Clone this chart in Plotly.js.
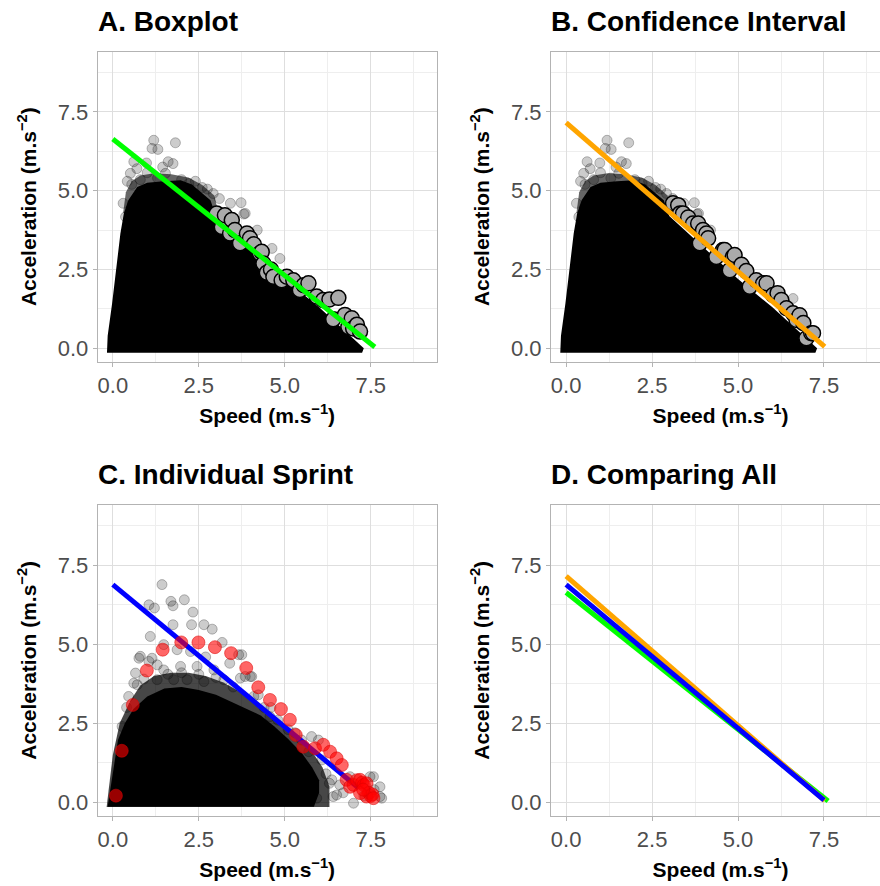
<!DOCTYPE html>
<html>
<head>
<meta charset="utf-8">
<script src="https://cdn.plot.ly/plotly-3.0.1.min.js"></script>
<style>
html, body { margin: 0; padding: 0; overflow: hidden; background: #fff; }
#chart { width: 900px; height: 886px; }
</style>
</head>
<body>
<div id="chart"></div>
<script>
// ---------- DATA ----------
const panelTitles = ['A. Boxplot', 'B. Confidence Interval', 'C. Individual Sprint', 'D. Comparing All'];
const tickValues = [0, 2.5, 5, 7.5];
const tickLabels = ['0.0', '2.5', '5.0', '7.5'];
const minorTickValues = [1.25, 3.75, 6.25, 8.75];

// All-data cloud (panels A and B): dense core outline
const cloudCoreX = [-0.17, -0.15, -0.02, 0.13, 0.22, 0.32, 0.45, 0.71, 1.0, 1.48, 1.97, 2.3, 2.55, 2.84, 3.0, 3.5, 4.0, 4.5, 5.0, 5.5, 6.0, 6.5, 7.0, 7.22, 7.3, 7.25];
const cloudCoreY = [-0.14, 0.4, 1.43, 2.8, 3.64, 4.28, 4.7, 5.12, 5.25, 5.3, 5.33, 5.2, 4.98, 4.7, 4.2, 3.7, 3.2, 2.7, 2.2, 1.75, 1.3, 0.8, 0.3, 0.1, 0.0, -0.14];
// All-data cloud: lighter fringe over the top of the cloud
const cloudHaloX = [0.3, 0.38, 0.55, 0.8, 1.2, 1.7, 2.2, 2.6, 2.95, 3.05, 2.0, 0.6];
const cloudHaloY = [4.3, 4.95, 5.3, 5.48, 5.55, 5.52, 5.42, 5.18, 4.85, 4.4, 4.2, 4.2];
// All-data cloud: sparse outlying points
const cloudSparseX = [1.19, 1.82, 1.14, 1.31, 0.61, 0.98, 1.61, 1.75, 0.51, 1.0, 1.53, 2.21, 2.92, 3.42, 3.73, 3.81, 0.37, 4.63, 3.85, 4.86, 0.55, 0.8, 1.3, 2.0, 2.6, 3.1, 4.2, 6.6, 0.42, 0.7, 1.45, 2.4, 2.75, 0.3];
const cloudSparseY = [6.6, 6.52, 6.34, 6.31, 5.92, 5.88, 5.92, 5.86, 5.55, 5.57, 5.55, 5.23, 4.91, 4.6, 4.62, 4.26, 4.17, 3.17, 4.28, 2.85, 5.2, 5.35, 5.4, 5.35, 5.1, 4.75, 3.75, 1.58, 5.3, 5.7, 5.75, 5.3, 5.05, 4.6];

// A. Boxplot-selected points
const boxSpeed = [3.02, 3.17, 3.26, 3.41, 3.46, 3.55, 3.70, 3.90, 3.99, 4.10, 4.28, 4.33, 4.38, 4.48, 4.60, 4.67, 4.91, 5.06, 5.25, 5.44, 5.55, 5.69, 5.93, 6.12, 6.30, 6.41, 6.56, 6.75, 6.85, 6.95, 6.99, 7.10, 7.19];
const boxAcc = [4.28, 3.85, 4.22, 3.64, 4.07, 3.75, 3.33, 3.64, 3.49, 3.30, 3.01, 3.06, 2.69, 2.40, 2.50, 2.27, 2.16, 2.27, 2.16, 1.85, 2.00, 2.06, 1.64, 1.53, 1.55, 0.92, 1.60, 1.06, 0.68, 0.95, 0.63, 0.75, 0.53];
// B. Confidence-interval-selected points
const ciSpeed = [3.11, 3.26, 3.31, 3.40, 3.55, 3.69, 3.84, 3.89, 3.98, 4.08, 4.13, 4.37, 4.56, 4.61, 4.76, 4.85, 4.90, 5.10, 5.24, 5.34, 5.53, 5.73, 5.83, 6.02, 6.15, 6.26, 6.41, 6.60, 6.70, 6.79, 6.90, 6.99, 7.13, 7.18];
const ciAcc = [4.60, 4.54, 4.28, 4.28, 4.15, 3.96, 3.96, 3.33, 3.75, 3.64, 3.49, 2.90, 3.12, 3.12, 2.48, 2.90, 2.96, 2.65, 2.45, 1.95, 2.16, 2.06, 2.06, 1.69, 1.75, 1.53, 1.27, 1.11, 0.90, 1.05, 0.80, 0.32, 0.48, 0.48];

// C. Sprint data cloud
const sprintCoreX = [-0.15, -0.05, 0.05, 0.15, 0.35, 0.6, 1.0, 1.5, 2.0, 2.5, 3.0, 3.5, 3.9, 4.3, 4.7, 5.1, 5.5, 5.8, 6.0, 6.0, 5.85];
const sprintCoreY = [-0.14, 0.6, 1.3, 1.97, 2.5, 2.95, 3.35, 3.6, 3.65, 3.55, 3.4, 3.15, 2.95, 2.75, 2.4, 2.0, 1.55, 1.1, 0.7, 0.3, -0.14];
const sprintHaloX = [-0.18, 0.0, 0.2, 0.5, 0.8, 1.2, 1.7, 2.2, 2.7, 3.2, 3.7, 4.2, 4.6, 5.0, 5.4, 5.8, 6.1, 6.3, 6.3];
const sprintHaloY = [-0.15, 1.5, 2.5, 3.2, 3.7, 4.0, 4.1, 4.1, 4.0, 3.8, 3.5, 3.15, 2.8, 2.4, 2.0, 1.6, 1.1, 0.5, -0.15];
const sprintSparseX = [1.43, 1.05, 1.21, 1.69, 1.75, 2.08, 2.33, 1.75, 2.29, 2.65, 2.89, 1.09, 3.18, 1.48, 1.87, 2.26, 0.76, 1.14, 3.66, 3.71, 4.0, 0.66, 1.48, 1.97, 2.45, 2.94, 1.29, 1.77, 2.16, 2.65, 3.23, 0.71, 3.75, 4.04, 3.85, 4.23, 4.57, 5.78, 5.98, 6.08, 6.37, 6.51, 7.0, 7.58, 7.77, 7.82, 5.93, 5.59, 5.25, 5.49, 6.41, 6.9, 7.48, 7.77, 0.8, 0.61, 0.46, 0.27, 1.29, 1.05, 4.4, 4.8, 5.1, 6.2, 6.7, 7.3, 7.6, 3.4, 2.7, 0.4, 0.9, 1.6, 2.0, 2.5, 3.0, 3.5, 4.1, 4.6, 5.3, 5.7, 6.3, 6.6];
const sprintSparseY = [6.89, 6.25, 6.15, 6.36, 6.22, 6.41, 6.02, 5.62, 5.62, 5.62, 5.48, 5.25, 5.06, 4.99, 4.83, 4.77, 4.56, 4.56, 4.67, 3.93, 3.98, 4.09, 4.19, 4.3, 4.3, 4.19, 3.88, 3.88, 3.88, 3.82, 3.88, 3.72, 4.67, 3.98, 3.98, 3.4, 2.71, 2.08, 1.97, 1.34, 0.71, 0.23, -0.03, 0.81, 0.49, 0.13, 0.13, 0.49, 1.45, 1.97, 0.18, 0.81, 0.81, 0.18, 4.62, 3.77, 3.35, 2.4, 4.35, 4.46, 3.0, 2.6, 2.3, 0.9, 0.3, 0.2, 0.4, 4.4, 4.6, 3.0, 3.9, 4.05, 4.1, 4.05, 3.95, 3.65, 3.35, 3.0, 2.2, 1.6, 0.6, 0.55];
// C. The individual sprint
const indivSpeed = [0.09, 0.26, 0.58, 0.99, 1.45, 1.99, 2.49, 2.97, 3.44, 3.88, 4.23, 4.57, 4.89, 5.15, 5.32, 5.54, 5.88, 6.12, 6.32, 6.51, 6.66, 6.80, 6.90, 7.00, 7.10, 7.19, 7.25, 7.30, 7.38, 7.38, 7.45, 7.50, 7.55, 7.58, 7.19, 7.28];
const indivAcc = [0.21, 1.63, 3.08, 4.17, 4.83, 5.06, 5.06, 4.91, 4.72, 4.25, 3.64, 3.24, 2.95, 2.61, 2.13, 1.76, 1.71, 1.82, 1.60, 1.39, 1.18, 0.71, 0.49, 0.55, 0.70, 0.71, 0.62, 0.55, 0.60, 0.18, 0.30, 0.20, 0.25, 0.13, 0.29, 0.40];

// Fitted acceleration-speed profiles (start, end)
const boxLineX = [0, 7.62];
const boxLineY = [6.64, 0.04];
const ciLineX = [0, 7.52];
const ciLineY = [7.16, 0.05];
const indivLineX = [0, 7.15];
const indivLineY = [6.89, 0.45];
const indivLineFullX = [0, 7.5];
const indivLineFullY = [6.89, 0.07];

// ---------- STYLE ----------
const FONT = '"Liberation Sans", Arial, Helvetica, sans-serif';
const W = 900, H = 886;
const colX = [[97.7, 436.7], [551, 890]];
const rowY = [[51.7, 361.7], [505, 815.7]];
const GREEN = '#00FF00', ORANGE = '#FFA500', BLUE = '#0000FF';

function xDom(c) { return [colX[c][0] / W, colX[c][1] / W]; }
function yDom(r) { return [1 - rowY[r][1] / H, 1 - rowY[r][0] / H]; }

function baseAxis() {
  return {
    tickmode: 'array', tickvals: tickValues, ticktext: tickLabels,
    showgrid: true, gridcolor: '#DEDEDE', gridwidth: 1,
    minor: { tickmode: 'array', tickvals: minorTickValues, showgrid: true, gridcolor: '#EEEEEE', gridwidth: 1, ticks: '' },
    zeroline: false, showline: true, mirror: true, linecolor: '#B3B3B3', linewidth: 1,
    ticks: 'outside', ticklen: 4, tickcolor: '#B3B3B3', tickwidth: 1,
    tickfont: { family: FONT, size: 22, color: '#4D4D4D' },
    fixedrange: true
  };
}
function xAxis(c, r, anchor) {
  return Object.assign(baseAxis(), {
    domain: xDom(c), anchor: anchor, range: [-0.44, 9.42],
    title: { text: '<b>Speed (m.s<sup>−1</sup>)</b>', font: { family: FONT, size: 21, color: '#000' }, standoff: 11 }
  });
}
function yAxis(c, r, anchor) {
  return Object.assign(baseAxis(), {
    domain: yDom(r), anchor: anchor, range: [-0.425, 9.41],
    title: { text: '<b>Acceleration (m.s<sup>−2</sup>)</b>', font: { family: FONT, size: 21, color: '#000' }, standoff: 15 }
  });
}

const traces = [];
function poly(xs, ys, color, xa, ya) {
  traces.push({ x: xs, y: ys, xaxis: xa, yaxis: ya, type: 'scatter', mode: 'lines', fill: 'toself', fillcolor: color, line: { width: 0, color: color }, hoverinfo: 'skip', showlegend: false });
}
function pts(xs, ys, marker, xa, ya) {
  traces.push({ x: xs, y: ys, xaxis: xa, yaxis: ya, type: 'scatter', mode: 'markers', marker: marker, hoverinfo: 'x+y', showlegend: false });
}
function line(xs, ys, color, xa, ya) {
  traces.push({ x: xs, y: ys, xaxis: xa, yaxis: ya, type: 'scatter', mode: 'lines', line: { color: color, width: 5 }, hoverinfo: 'skip', showlegend: false });
}
const sparseMarker = { size: 10, color: 'rgba(0,0,0,0.2)', line: { color: 'rgba(0,0,0,0.25)', width: 1 } };
const selMarker = { size: 15, color: '#AAAAAA', line: { color: '#000000', width: 1.5 } };

// Panel A
poly(cloudHaloX, cloudHaloY, 'rgba(0,0,0,0.6)', 'x', 'y');
poly(cloudCoreX, cloudCoreY, '#000000', 'x', 'y');
pts(cloudSparseX, cloudSparseY, sparseMarker, 'x', 'y');
pts(boxSpeed, boxAcc, selMarker, 'x', 'y');
line(boxLineX, boxLineY, GREEN, 'x', 'y');
// Panel B
poly(cloudHaloX, cloudHaloY, 'rgba(0,0,0,0.6)', 'x2', 'y2');
poly(cloudCoreX, cloudCoreY, '#000000', 'x2', 'y2');
pts(cloudSparseX, cloudSparseY, sparseMarker, 'x2', 'y2');
pts(ciSpeed, ciAcc, selMarker, 'x2', 'y2');
line(ciLineX, ciLineY, ORANGE, 'x2', 'y2');
// Panel C
poly(sprintHaloX, sprintHaloY, 'rgba(0,0,0,0.72)', 'x3', 'y3');
poly(sprintCoreX, sprintCoreY, '#000000', 'x3', 'y3');
pts(sprintSparseX, sprintSparseY, sparseMarker, 'x3', 'y3');
line(indivLineX, indivLineY, BLUE, 'x3', 'y3');
pts(indivSpeed, indivAcc, { size: 13, color: 'rgba(255,0,0,0.6)', line: { color: 'rgba(220,0,0,0.5)', width: 1 } }, 'x3', 'y3');
// Panel D
line(boxLineX, boxLineY, GREEN, 'x4', 'y4');
line(ciLineX, ciLineY, ORANGE, 'x4', 'y4');
line(indivLineFullX, indivLineFullY, BLUE, 'x4', 'y4');

const titleAnn = [];
const titlePos = [[0, 0], [1, 0], [0, 1], [1, 1]];
const titleCenterPx = [22, 474];
panelTitles.forEach(function (t, i) {
  const c = titlePos[i][0], r = titlePos[i][1];
  titleAnn.push({
    text: '<b>' + t + '</b>', xref: 'paper', yref: 'paper',
    x: colX[c][0] / W - 0.002, y: 1 - titleCenterPx[r] / H, xanchor: 'left', yanchor: 'middle',
    showarrow: false, font: { family: FONT, size: 28, color: '#000' }
  });
});

const layout = {
  width: W, height: H,
  margin: { l: 0, r: 0, t: 0, b: 0 },
  paper_bgcolor: '#FFFFFF', plot_bgcolor: '#FFFFFF',
  showlegend: false, hovermode: 'closest',
  font: { family: FONT },
  xaxis: xAxis(0, 0, 'y'), yaxis: yAxis(0, 0, 'x'),
  xaxis2: xAxis(1, 0, 'y2'), yaxis2: yAxis(1, 0, 'x2'),
  xaxis3: xAxis(0, 1, 'y3'), yaxis3: yAxis(0, 1, 'x3'),
  xaxis4: xAxis(1, 1, 'y4'), yaxis4: yAxis(1, 1, 'x4'),
  annotations: titleAnn
};

Plotly.newPlot('chart', traces, layout, { displayModeBar: false, responsive: false });
</script>
</body>
</html>
